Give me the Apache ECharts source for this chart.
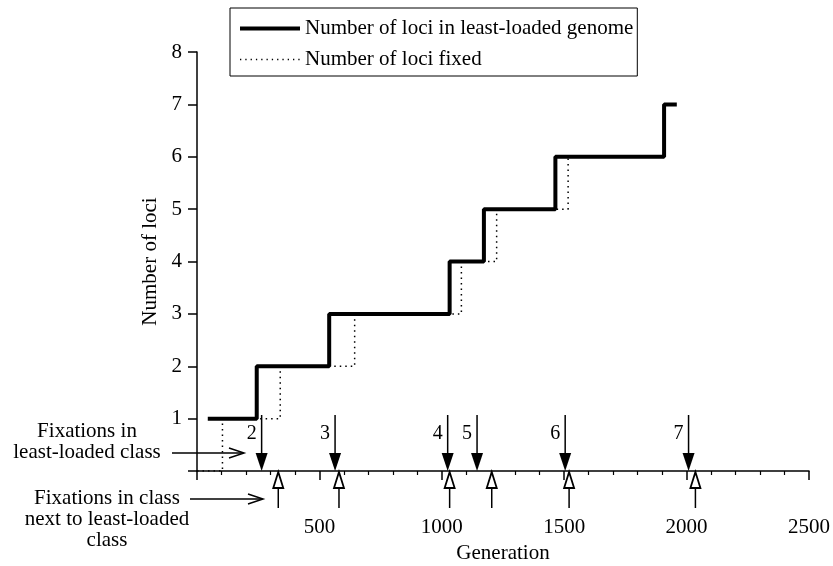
<!DOCTYPE html>
<html>
<head>
<meta charset="utf-8">
<script src="https://cdn.jsdelivr.net/npm/echarts@6/dist/echarts.min.js"></script>
<style>
  html, body { margin: 0; padding: 0; background: #fff; }
  #chart { width: 833px; height: 566px; }
</style>
</head>
<body>
<div id="chart"></div>
<script>
// step points: generation where the count changes, and the new count
var loadedGen = [44, 244, 540, 1032, 1172, 1464, 1908, 1960]
var loadedLoci = [1, 2, 3, 4, 5, 6, 7, 7]
var fixedGen = [0, 104, 340, 644, 1080, 1224, 1516, 1908]
var fixedLoci = [0, 1, 2, 3, 4, 5, 6, 6]
// arrows under the plot
var fixLeast = [264, 564, 1024, 1144, 1504, 2008]
var fixLabels = ['2', '3', '4', '5', '6', '7']
var fixNext = [332, 580, 1032, 1204, 1520, 2036]
var xTicks = [0, 500, 1000, 1500, 2000, 2500]
var yTicks = [0, 1, 2, 3, 4, 5, 6, 7, 8]

var font = '"Liberation Serif", "Times New Roman", serif'

function pairs (xs, ys) {
  return xs.map(function (x, i) { return [x, ys[i]] })
}

// 填充箭头, 指向轴
function renderDown (params, api) {
  var p = api.coord([api.value(0), 0])
  var x = p[0], y = p[1]
  return {
    type: 'group',
    children: [
      { type: 'line', shape: { x1: x, y1: y - 56, x2: x, y2: y - 16 }, style: { stroke: '#000', lineWidth: 1.5 } },
      { type: 'polygon', shape: { points: [[x - 6, y - 18], [x + 6, y - 18], [x, y]] }, style: { fill: '#000' } },
      { type: 'text', style: { text: fixLabels[params.dataIndex], x: x - 5, y: y - 37, align: 'right', verticalAlign: 'middle', fontSize: 20, fontFamily: font, fill: '#000' } }
    ]
  }
}
// 空心箭头, 从下方指向轴
function renderUp (params, api) {
  var p = api.coord([api.value(0), 0])
  var x = p[0], y = p[1]
  return {
    type: 'group',
    children: [
      { type: 'line', shape: { x1: x, y1: y + 17, x2: x, y2: y + 37 }, style: { stroke: '#000', lineWidth: 1.5 } },
      { type: 'polygon', shape: { points: [[x, y + 1], [x - 5, y + 17], [x + 5, y + 17]] }, style: { fill: '#fff', stroke: '#000', lineWidth: 1.8 } }
    ]
  }
}

var chart = echarts.init(document.getElementById('chart'))
var option = {
  animation: false,
  backgroundColor: '#fff',
  textStyle: { fontFamily: font, color: '#000' },
  grid: { left: 197, right: 24, top: 52, bottom: 95, containLabel: false, outerBoundsMode: 'none' },
  legend: {
    left: 230, top: 8, orient: 'vertical',
    borderColor: '#000', borderWidth: 1,
    padding: [9, 4, 5, 8],
    itemWidth: 60, itemHeight: 14, itemGap: 8,
    itemStyle: { opacity: 0 },
    textStyle: { fontFamily: font, fontSize: 21, color: '#000', lineHeight: 23 },
    data: [
      { name: 'Number of loci in least-loaded genome', lineStyle: { width: 4, color: '#000' } },
      { name: 'Number of loci fixed', lineStyle: { width: 1.3, color: '#000', type: [1.3, 4] } }
    ]
  },
  xAxis: {
    type: 'value', min: xTicks[0], max: xTicks[xTicks.length - 1], interval: 500,
    name: 'Generation', nameLocation: 'middle', nameGap: 68,
    nameTextStyle: { fontFamily: font, fontSize: 21, color: '#000' },
    axisLine: { lineStyle: { color: '#000', width: 1.5 } },
    axisTick: { length: 9, lineStyle: { color: '#000', width: 1.5 } },
    minorTick: { show: true, splitNumber: 5, length: 4, lineStyle: { color: '#000', width: 1.2 } },
    splitLine: { show: false },
    axisLabel: {
      margin: 46, fontFamily: font, fontSize: 21, color: '#000',
      formatter: function (v) { return v === 0 ? '' : v }
    }
  },
  yAxis: {
    type: 'value', min: yTicks[0], max: yTicks[yTicks.length - 1], interval: 1,
    name: 'Number of loci', nameLocation: 'middle', nameGap: 32,
    nameTextStyle: { fontFamily: font, fontSize: 21, color: '#000' },
    axisLine: { show: true, lineStyle: { color: '#000', width: 1.5 } },
    axisTick: { show: true, length: 9, lineStyle: { color: '#000', width: 1.5 } },
    splitLine: { show: false },
    axisLabel: {
      margin: 15, fontFamily: font, fontSize: 21, color: '#000',
      formatter: function (v) { return v === 0 ? '' : v }
    }
  },
  series: [
    {
      name: 'Number of loci in least-loaded genome',
      type: 'line', step: 'end', symbol: 'none', z: 4,
      lineStyle: { color: '#000', width: 4 },
      data: pairs(loadedGen, loadedLoci)
    },
    {
      name: 'Number of loci fixed',
      type: 'line', step: 'end', symbol: 'none', z: 3,
      lineStyle: { color: '#000', width: 1.5, type: [1.5, 4] },
      data: pairs(fixedGen, fixedLoci)
    },
    {
      type: 'custom', renderItem: renderDown, z: 5, clip: false,
      data: fixLeast.map(function (g) { return [g, 0] })
    },
    {
      type: 'custom', renderItem: renderUp, z: 5, clip: false,
      data: fixNext.map(function (g) { return [g, 0] })
    }
  ],
  graphic: [
    { type: 'text', style: { text: 'Fixations in\nleast-loaded class', x: 87, y: 442, align: 'center', verticalAlign: 'middle', lineHeight: 21, fontSize: 21, fontFamily: font, fill: '#000' } },
    { type: 'text', style: { text: 'Fixations in class\nnext to least-loaded\nclass', x: 107, y: 519, align: 'center', verticalAlign: 'middle', lineHeight: 21, fontSize: 21, fontFamily: font, fill: '#000' } },
    { type: 'line', shape: { x1: 172, y1: 453, x2: 243, y2: 453 }, style: { stroke: '#000', lineWidth: 1.5 } },
    { type: 'polyline', shape: { points: [[229, 448], [244, 453], [229, 458]] }, style: { stroke: '#000', lineWidth: 1.5, fill: null } },
    { type: 'line', shape: { x1: 190, y1: 499, x2: 262, y2: 499 }, style: { stroke: '#000', lineWidth: 1.5 } },
    { type: 'polyline', shape: { points: [[248, 494], [263, 499], [248, 504]] }, style: { stroke: '#000', lineWidth: 1.5, fill: null } }
  ]
}
chart.setOption(option)
</script>
</body>
</html>
